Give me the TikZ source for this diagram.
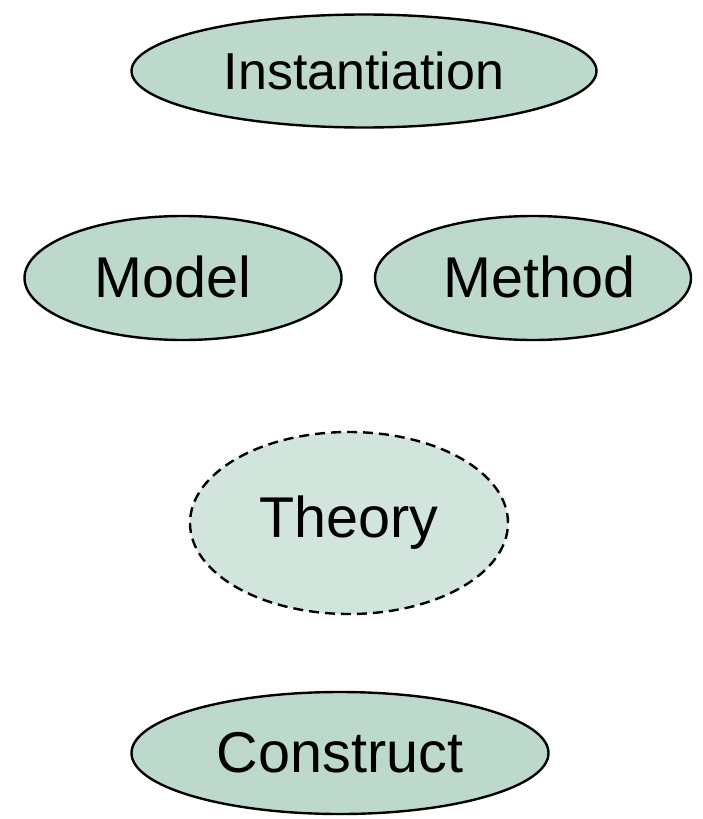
\documentclass[tikz,border=0pt]{standalone}
\usepackage{fontspec}
\setmainfont{Liberation Sans}
\usetikzlibrary{shapes.geometric}
\definecolor{leaf}{HTML}{BDD9CC}
\definecolor{leaflight}{HTML}{D2E5DD}
\tikzset{
  big/.style={font=\fontsize{57.5}{62}\selectfont},
  blob/.style={ellipse, draw=black, line width=2.4pt, fill=leaf, inner sep=0pt, big},
  faintblob/.style={blob, fill=leaflight, dash pattern=on 10pt off 6pt}
}
\begin{document}
\begin{tikzpicture}[x=1pt,y=-1pt]
  \useasboundingbox (0,0) rectangle (702,819);
  \node[blob, minimum width=465pt, minimum height=113pt,
        font=\fontsize{52}{58}\selectfont] (inst) at (364,71) {Instantiation};
  \node[blob, minimum width=317pt, minimum height=124pt,
        label={[big, xshift=-10.5pt, yshift=1pt]center:Model}] (model) at (183,278) {};
  \node[blob, minimum width=316pt, minimum height=124pt,
        label={[big, xshift=6.5pt, yshift=1pt]center:Method}] (method) at (533,278) {};
  \node[faintblob, minimum width=318pt, minimum height=182pt] (theory) at (349,523) {Theory};
  \node[blob, minimum width=417pt, minimum height=122pt] (construct) at (340,753) {Construct};
\end{tikzpicture}
\end{document}
